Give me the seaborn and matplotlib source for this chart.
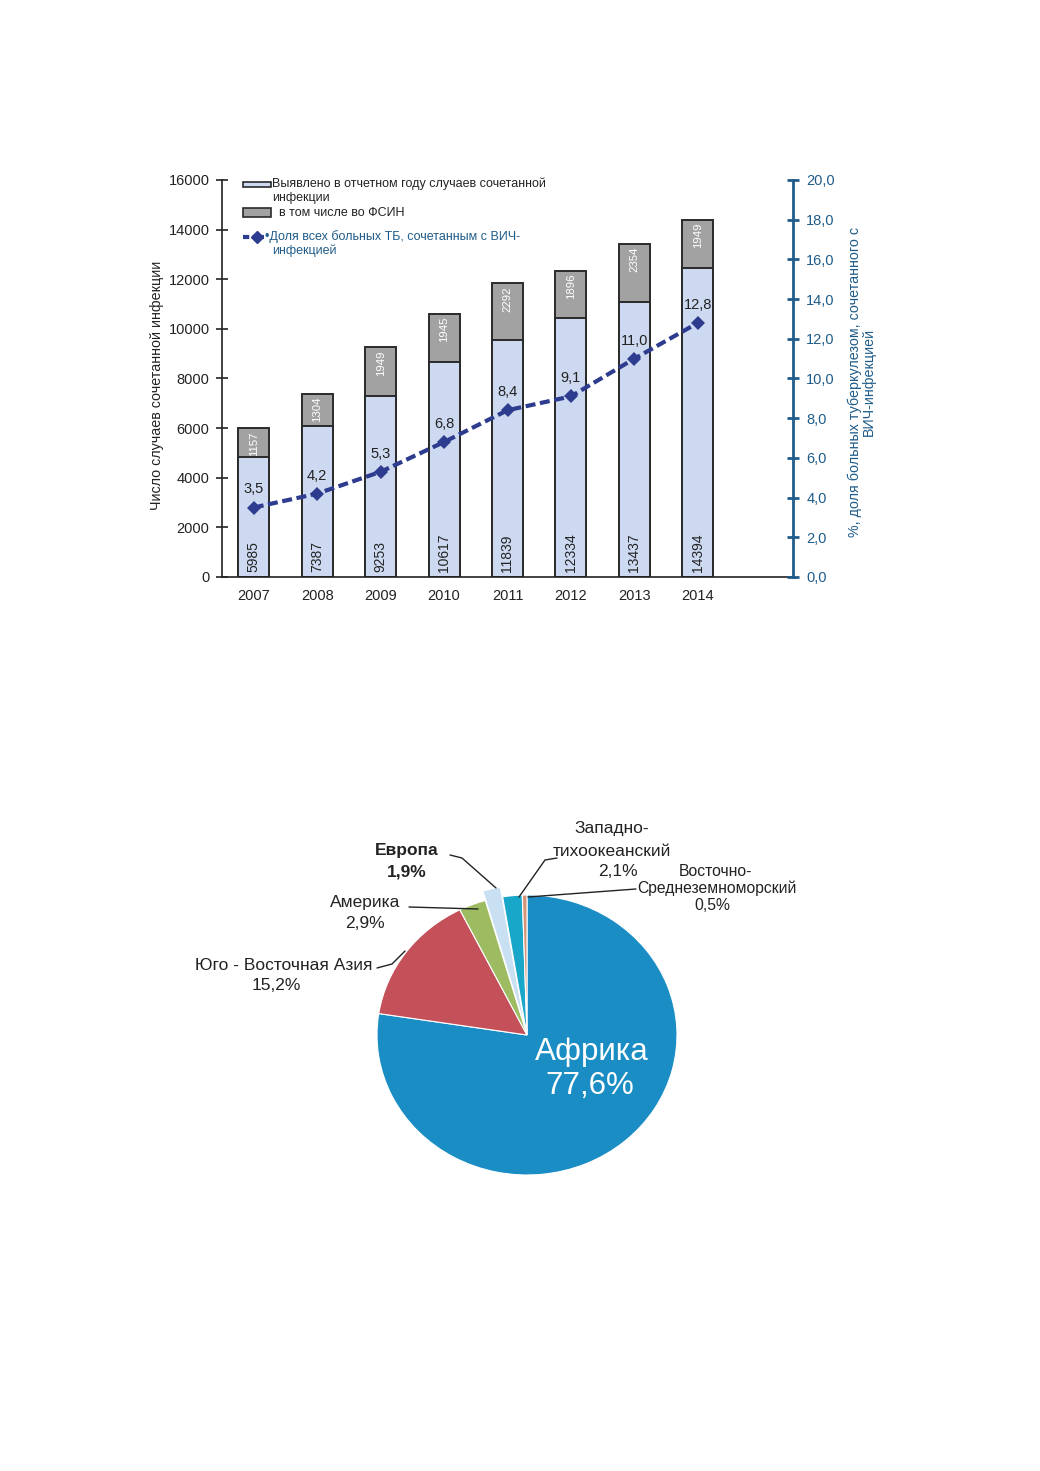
import numpy as np
import pandas as pd
import matplotlib
matplotlib.use("Agg")
import matplotlib.pyplot as plt
import seaborn as sns
from matplotlib.patches import Rectangle
from matplotlib.lines import Line2D

# ---------------- data ----------------
years = ["2007", "2008", "2009", "2010", "2011", "2012", "2013", "2014"]
total_cases = [5985, 7387, 9253, 10617, 11839, 12334, 13437, 14394]
fsin_cases = [1157, 1304, 1949, 1945, 2292, 1896, 2354, 1949]
tb_hiv_share = [3.5, 4.2, 5.3, 6.8, 8.4, 9.1, 11.0, 12.8]
left_ticks = [0, 2000, 4000, 6000, 8000, 10000, 12000, 14000, 16000]
right_ticks = [0, 2, 4, 6, 8, 10, 12, 14, 16, 18, 20]

regions = ["Африка", "Юго - Восточная Азия", "Америка", "Европа",
           "Западно-\nтихоокеанский", "Восточно-\nСреднеземноморский"]
region_share = [77.6, 15.2, 2.9, 1.9, 2.1, 0.5]

legend_labels = ["Выявлено в отчетном году случаев сочетанной\nинфекции",
                 "  в том числе во ФСИН",
                 "•Доля всех больных ТБ, сочетанным с ВИЧ-\nинфекцией"]
ylabel_left = "Число случаев сочетанной инфекции"
ylabel_right = "%, доля больных туберкулезом, сочетанного с\nВИЧ-инфекцией"

# ---------------- style ----------------
sns.set_style("white")
plt.rcParams["font.family"] = ["Liberation Sans", "DejaVu Sans"]

W, H = 1040, 1471
fig = plt.figure(figsize=(W / 100, H / 100), dpi=100)


def P(x, y):
    return (x / W, 1 - y / H)


LIGHT = "#cdd9f1"
GRAY = "#a2a2a2"
EDGE = "#2a2a2a"
NAVY = "#2d3c8e"
AXBLUE = "#1f5c8a"
TXT = "#222222"

# ---------------- bar chart ----------------
ax = fig.add_axes([222 / W, 1 - 577 / H, 571 / W, 397 / H])
df = pd.DataFrame({"year": years, "total": total_cases,
                   "fsin": fsin_cases})
df["general"] = df["total"] - df["fsin"]

sns.barplot(data=df, x="year", y="total", color=GRAY, saturation=1,
            edgecolor=EDGE, linewidth=1.4, width=0.49, ax=ax)
sns.barplot(data=df, x="year", y="general", color=LIGHT, saturation=1,
            edgecolor=EDGE, linewidth=1.4, width=0.49, ax=ax)
ax.set_xlim(-0.5, 8.5)
ax.set_ylim(0, 16000)
ax.set_yticks(left_ticks)
ax.set_yticklabels([str(v) for v in left_ticks])
ax.set_xticks(range(len(years)))
ax.set_xticklabels(years)
ax.set_xticks(np.arange(0.5, len(years), 1.0), minor=True)
ax.set_xlabel("")
ax.set_ylabel("")
ax.tick_params(axis="y", direction="inout", length=8, width=1.2,
               colors=TXT, labelsize=10.5, pad=5)
ax.tick_params(axis="x", which="major", length=0, labelsize=10.5,
               colors=TXT, pad=9)
ax.tick_params(axis="x", which="minor", direction="inout", length=9,
               width=2, color=TXT)
for s in ["top", "right"]:
    ax.spines[s].set_visible(False)
for s in ["left", "bottom"]:
    ax.spines[s].set_color(TXT)
    ax.spines[s].set_linewidth(1.2)

for i, (t, f) in enumerate(zip(total_cases, fsin_cases)):
    ax.annotate(str(t), xy=(i, 0), xytext=(0, 3.5), textcoords="offset points",
                rotation=90, ha="center", va="bottom", fontsize=10, color=TXT)
    ax.annotate(str(f), xy=(i, t), xytext=(0, -2), textcoords="offset points",
                rotation=90, ha="center", va="top", fontsize=8.2,
                color="white")

ax2 = ax.twinx()
sns.lineplot(x=np.arange(len(years)), y=tb_hiv_share, ax=ax2, color=NAVY,
             linewidth=3, marker="D", markersize=7, markeredgewidth=0,
             linestyle="--")
ax2.lines[0].set_dashes([2.4, 1.1])
ax2.set_ylim(0, 20)
ax2.set_yticks(right_ticks)
ax2.set_yticklabels([f"{v:.1f}".replace(".", ",") for v in right_ticks])
ax2.set_xlim(-0.5, 8.5)
ax2.tick_params(axis="y", direction="inout", length=9, width=2,
                color=AXBLUE, labelcolor=AXBLUE, labelsize=10.5, pad=5)
for s in ["top", "left", "bottom"]:
    ax2.spines[s].set_visible(False)
ax2.spines["right"].set_color(AXBLUE)
ax2.spines["right"].set_linewidth(2)
for i, v in enumerate(tb_hiv_share):
    ax2.annotate(f"{v:.1f}".replace(".", ","), xy=(i, v), xytext=(0, 8),
                 textcoords="offset points", ha="center", va="bottom",
                 fontsize=10.5, color=TXT)

fig.text(*P(157, 385), ylabel_left, rotation=90, ha="center", va="center",
         fontsize=10.3, color=TXT)
fig.text(*P(862, 382), ylabel_right, rotation=90, ha="center", va="center",
         fontsize=10.3, color=AXBLUE, multialignment="center",
         linespacing=1.0)

# legend (drawn by hand)
fig.patches.append(Rectangle(P(243, 187), 28 / W, 5 / H,
                             transform=fig.transFigure, facecolor=LIGHT,
                             edgecolor=EDGE, linewidth=1.2))
fig.patches.append(Rectangle(P(243, 217), 28 / W, 9 / H,
                             transform=fig.transFigure, facecolor=GRAY,
                             edgecolor=EDGE, linewidth=1.2))
fig.lines.append(Line2D([243 / W, 264 / W], [1 - 237 / H] * 2,
                        transform=fig.transFigure, color=NAVY, lw=3,
                        dashes=[1.5, 0.8]))
fig.lines.append(Line2D([257 / W], [1 - 237 / H], transform=fig.transFigure,
                        color=NAVY, marker="D", markersize=6, lw=0))
LFS = 9.0
lines1 = legend_labels[0].split("\n")
fig.text(*P(272, 184), lines1[0], ha="left", va="center", fontsize=LFS,
         color=TXT)
fig.text(*P(272, 198), lines1[1], ha="left", va="center", fontsize=LFS,
         color=TXT)
fig.text(*P(272, 213), legend_labels[1], ha="left", va="center",
         fontsize=LFS, color=TXT)
lines3 = legend_labels[2].split("\n")
fig.text(*P(265, 237), lines3[0], ha="left", va="center", fontsize=LFS,
         color=AXBLUE)
fig.text(*P(272, 251), lines3[1], ha="left", va="center", fontsize=LFS,
         color=AXBLUE)

# ---------------- pie chart ----------------
CX, CY, RX, RY = 527, 1035, 150, 140
axp = fig.add_axes([(CX - 2.5 * RX) / W, 1 - (CY + 1.6 * RY) / H,
                    5 * RX / W, 3.2 * RY / H])
pie_colors = ["#1a8dc4", "#c4505a", "#9dbb61", "#c9e0f2", "#18a6c9",
              "#d59478"]
explode = [0, 0, 0, 0.07, 0, 0]
axp.pie(region_share, colors=pie_colors, startangle=90, counterclock=False,
        explode=explode, wedgeprops=dict(edgecolor="white", linewidth=0.8))
axp.set_aspect("auto")
axp.set_xlim(-2.5, 2.5)
axp.set_ylim(-1.6, 1.6)
axp.axis("off")


def D(x, y):
    return ((x - CX) / RX, (CY - y) / RY)


def pct(v):
    return f"{v:.1f}".replace(".", ",") + "%"


# label layout: pixel positions of each text line (name lines + percent)
label_pos = [
    [(592, 1052), (590, 1086)],
    [(284, 965), (276, 986)],
    [(365, 902), (365, 923)],
    [(407, 851), (407, 872)],
    [(612, 828), (612, 851), (618, 871)],
    [(715, 871), (717, 888), (712, 906)],
]
leaders = [
    None,
    [(377, 968), (392, 964), (405, 951)],
    [(409, 907), (478, 909)],
    [(450, 855), (462, 858), (496, 888)],
    [(557, 858), (545, 860), (519, 897)],
    [(636, 889), (528, 897)],
]
for k, (name, share) in enumerate(zip(regions, region_share)):
    texts = name.split("\n") + [pct(share)]
    if k == 0:
        fs, col, fw = 22.5, "white", "normal"
    else:
        fs, col, fw = 12.5, TXT, ("bold" if name == "Европа" else "normal")
    if k == 5:
        fs = 11.3
    for txt, (px, py) in zip(texts, label_pos[k]):
        axp.text(*D(px, py), txt, ha="center", va="center", fontsize=fs,
                 color=col, fontweight=fw)
    if leaders[k] is not None:
        pts = [D(*p) for p in leaders[k]]
        axp.plot([p[0] for p in pts], [p[1] for p in pts], color=TXT,
                 lw=1.0)

fig.savefig("out.png", dpi=100, facecolor="white")
